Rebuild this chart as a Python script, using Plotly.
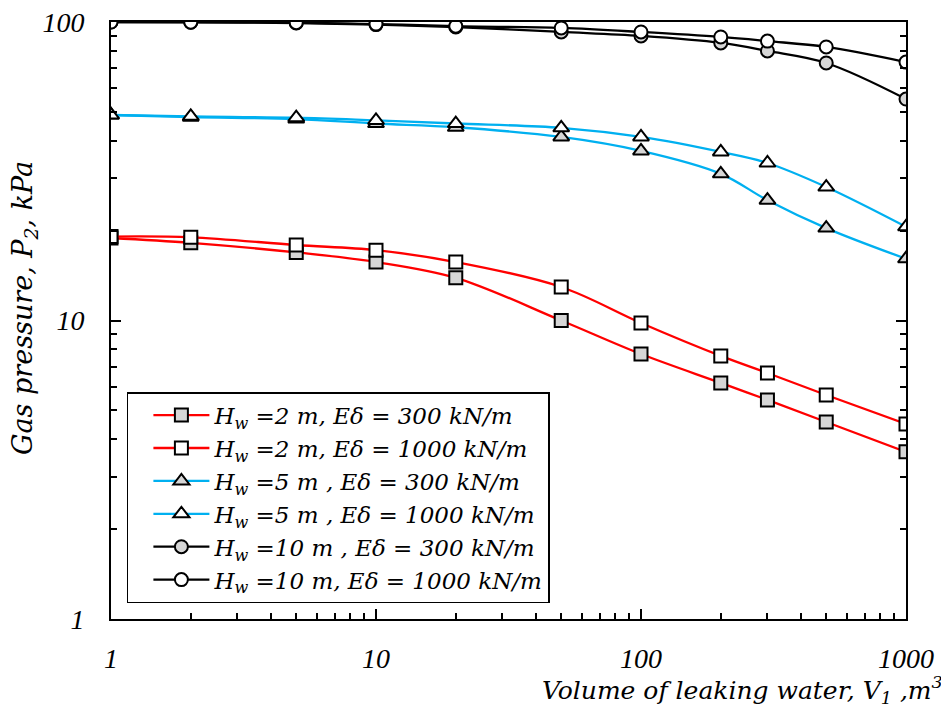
import plotly.graph_objects as go

volume = [1, 2, 5, 10, 20, 50, 100, 200, 300, 500, 1000]

p_h2_e300 = [18.9, 18.2, 16.9, 15.7, 13.9, 10.0, 7.72, 6.18, 5.42, 4.57, 3.63]
p_h2_e1000 = [19.1, 19.0, 17.9, 17.2, 15.7, 12.95, 9.81, 7.61, 6.67, 5.63, 4.50]
p_h5_e300 = [48.8, 48.0, 47.3, 45.7, 44.4, 41.2, 37.0, 31.0, 25.3, 20.4, 16.1]
p_h5_e1000 = [48.8, 48.3, 47.8, 46.8, 45.7, 44.2, 41.2, 36.7, 33.7, 28.0, 20.6]
p_h10_e300 = [100, 99.8, 99.2, 98.0, 96.2, 92.6, 89.8, 85.1, 80.0, 72.9, 55.2]
p_h10_e1000 = [100, 99.9, 99.5, 98.4, 96.8, 95.5, 92.6, 89.1, 86.3, 82.5, 73.4]

names = [
    "H<sub>w</sub> =2 m, Eδ = 300 kN/m",
    "H<sub>w</sub> =2 m, Eδ = 1000 kN/m",
    "H<sub>w</sub> =5 m , Eδ = 300 kN/m",
    "H<sub>w</sub> =5 m , Eδ = 1000 kN/m",
    "H<sub>w</sub> =10 m , Eδ = 300 kN/m",
    "H<sub>w</sub> =10 m, Eδ = 1000 kN/m",
]

x_ticks = [1, 10, 100, 1000]
y_ticks = [1, 10, 100]
x_minor = [2, 3, 4, 5, 6, 7, 8, 9, 20, 30, 40, 50, 60, 70, 80, 90,
           200, 300, 400, 500, 600, 700, 800, 900]
y_minor = [2, 3, 4, 5, 6, 7, 8, 9, 20, 30, 40, 50, 60, 70, 80, 90]

RED = "#ff0000"
BLUE = "#00b0f0"
BLACK = "#000000"
GRAY = "#d6d6d6"
WHITE = "#ffffff"

series = [
    (p_h2_e300, RED, "square", GRAY, 13),
    (p_h2_e1000, RED, "square", WHITE, 13),
    (p_h5_e300, BLUE, "triangle-up", GRAY, 14),
    (p_h5_e1000, BLUE, "triangle-up", WHITE, 14),
    (p_h10_e300, BLACK, "circle", GRAY, 13),
    (p_h10_e1000, BLACK, "circle", WHITE, 13),
]

TICK_FONT = "Liberation Serif, Times New Roman, serif"
TEXT_FONT = "DejaVu Serif, serif"

fig = go.Figure()
for (vals, color, sym, fill, size), name in zip(series, names):
    fig.add_trace(go.Scatter(
        x=volume, y=vals, name=name, mode="lines+markers",
        line=dict(color=color, width=2.3, shape="spline", smoothing=1),
        marker=dict(symbol=sym, size=size, color=fill,
                    line=dict(color=BLACK, width=2)),
    ))

axis_common = dict(
    type="log",
    showgrid=False, zeroline=False, automargin=False,
    showline=True, linecolor=BLACK, linewidth=2,
    ticks="inside", ticklen=10, tickwidth=1.5, tickcolor=BLACK,
    tickfont=dict(family=TICK_FONT, size=28, color=BLACK, style="italic"),
    ticklabeloverflow="allow",
)

fig.update_xaxes(
    **axis_common,
    range=[0, 3],
    ticklabelstandoff=13,
    tickmode="array", tickvals=x_ticks, ticktext=[str(v) for v in x_ticks],
    minor=dict(ticks="inside", ticklen=6, tickwidth=1.5, tickcolor=BLACK,
               showgrid=False, tickmode="array", tickvals=x_minor),
    mirror=True,
)
fig.update_yaxes(
    **axis_common,
    range=[0, 2],
    ticklabelstandoff=19,
    tickmode="array", tickvals=y_ticks, ticktext=[str(v) for v in y_ticks],
    minor=dict(ticks="inside", ticklen=6, tickwidth=1.5, tickcolor=BLACK,
               showgrid=False, tickmode="array", tickvals=y_minor),
    mirror="ticks",
)

fig.add_annotation(
    text="Volume of leaking water, V<sub>1</sub> ,m<sup>3</sup>",
    xref="paper", yref="paper", x=1.049, y=-0.119,
    xanchor="right", yanchor="middle", showarrow=False,
    font=dict(family=TEXT_FONT, size=25, color=BLACK, style="italic"),
)
fig.add_annotation(
    text="Gas pressure, P<sub>2</sub>, kPa",
    xref="paper", yref="paper", x=-0.108, y=0.521,
    xanchor="center", yanchor="middle", showarrow=False, textangle=-90,
    font=dict(family=TEXT_FONT, size=27, color=BLACK, style="italic"),
)

fig.update_layout(
    width=941, height=701,
    margin=dict(l=103, r=43, t=14, b=90),
    paper_bgcolor="white", plot_bgcolor="white",
    showlegend=True,
    legend=dict(
        x=0.02, y=0.38, xanchor="left", yanchor="top",
        bgcolor="white", bordercolor=BLACK, borderwidth=1.5,
        font=dict(family=TEXT_FONT, size=23, color=BLACK, style="italic"),
        tracegroupgap=0, itemsizing="trace",
        indentation=20, itemwidth=56,
    ),
)

fig.write_html("out.html")
